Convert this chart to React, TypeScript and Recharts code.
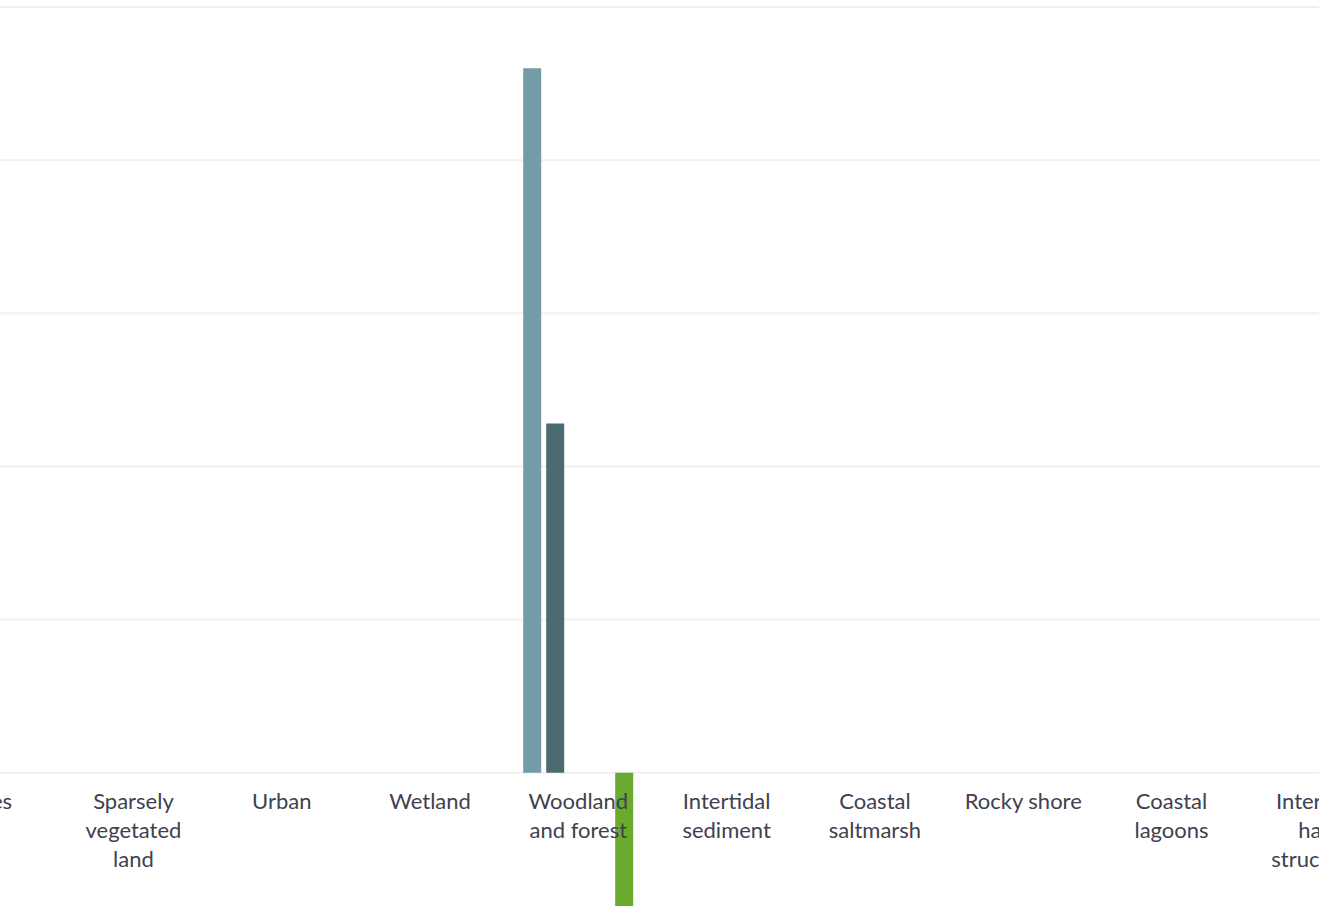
import React from "react";
import { BarChart, Bar, XAxis, YAxis, CartesianGrid, ReferenceDot } from "recharts";

const categories = [
  "Lakes",
  "Sparsely vegetated land",
  "Urban",
  "Wetland",
  "Woodland and forest",
  "Intertidal sediment",
  "Coastal saltmarsh",
  "Rocky shore",
  "Coastal lagoons",
  "Intertidal hard structures",
];

const tickLabelLines = [
  ["Lakes"],
  ["Sparsely", "vegetated", "land"],
  ["Urban"],
  ["Wetland"],
  ["Woodland", "and forest"],
  ["Intertidal", "sediment"],
  ["Coastal", "saltmarsh"],
  ["Rocky shore"],
  ["Coastal", "lagoons"],
  ["Intertidal", "hard", "structures"],
];

const series1 = [0, 0, 0, 0, 460, 0, 0, 0, 0, 0];
const series2 = [0, 0, 0, 0, 228, 0, 0, 0, 0, 0];
const series3 = [0, 0, 0, 0, 0, 0, 0, 0, 0, 0];
const series4 = [0, 0, 0, 0, 0, 0, 0, 0, 0, 0];
const series5 = [0, 0, 0, 0, -120, 0, 0, 0, 0, 0];

const yTicks = [-200, -100, 0, 100, 200, 300, 400, 500];

const data = categories.map((name, i) => ({
  name,
  s1: series1[i],
  s2: series2[i],
  s3: series3[i],
  s4: series4[i],
  s5: series5[i],
}));

const makeLabel = (idx: number) => (props: any) => {
  const vb = props.viewBox || {};
  const cx = Number(vb.x) + Number(vb.width || 0) / 2;
  const baseY = Number(vb.y) + Number(vb.height || 0) / 2 + 36;
  const lines = tickLabelLines[idx];
  return (
    <text
      x={cx}
      y={baseY}
      textAnchor="middle"
      fill="#40414e"
      style={{ fontFamily: "Lato, 'Open Sans', sans-serif", fontSize: 22 }}
    >
      {lines.map((ln: string, k: number) => (
        <tspan key={k} x={cx} y={baseY + k * 29.3}>
          {ln}
        </tspan>
      ))}
    </text>
  );
};

export default function App() {
  return (
    <div
      style={{
        position: "absolute",
        left: 0,
        top: 0,
        width: 1319,
        height: 906,
        overflow: "hidden",
        background: "#ffffff",
      }}
    >
      <div style={{ position: "absolute", left: -89, top: 0 }}>
        <BarChart
          width={1483}
          height={1079}
          data={data}
          margin={{ top: 7, right: 0, bottom: 0, left: 0 }}
          barSize={18}
          barGap={5}
        >
          <CartesianGrid vertical={false} stroke="#eff1f1" strokeWidth={2} />
          <XAxis dataKey="name" hide />
          <YAxis hide domain={[-200, 500]} ticks={yTicks} />
          <Bar dataKey="s1" name="Series 1" fill="#739ca6" isAnimationActive={false} />
          <Bar dataKey="s2" name="Series 2" fill="#4a6b72" isAnimationActive={false} />
          <Bar dataKey="s3" name="Series 3" fill="#a9c4c9" isAnimationActive={false} />
          <Bar dataKey="s4" name="Series 4" fill="#2e4a50" isAnimationActive={false} />
          <Bar dataKey="s5" name="Series 5" fill="#6aaa2e" isAnimationActive={false} />
          {categories.map((c, i) => (
            <ReferenceDot
              key={c}
              x={c}
              y={0}
              r={0}
              fill="none"
              stroke="none"
              label={{ content: makeLabel(i) }}
            />
          ))}
        </BarChart>
      </div>
    </div>
  );
}
